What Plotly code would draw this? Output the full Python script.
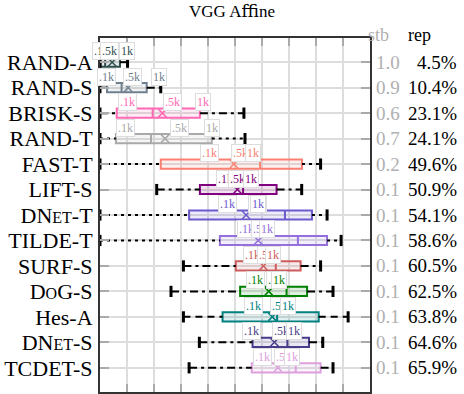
import plotly.graph_objects as go

# ---------------- data ----------------
methods = ["RAND-A", "RAND-S", "BRISK-S", "RAND-T", "FAST-T", "LIFT-S", "DNet-T",
           "TILDE-T", "SURF-S", "DoG-S", "Hes-A", "DNet-S", "TCDET-S"]
tick_text = ["RAND-A", "RAND-S", "BRISK-S", "RAND-T", "FAST-T", "LIFT-S",
             "DN<span style='font-size:16px'>ET</span>-T", "TILDE-T", "SURF-S",
             "D<span style='font-size:16px'>O</span>G-S", "Hes-A",
             "DN<span style='font-size:16px'>ET</span>-S", "TCDET-S"]
whisk_lo = [0, 0, 0, 0, 0, 21.0, 0, 0, 30.9, 26.3, 30.9, 36.8, 33.0]
q1 = [0.2, 2.6, 6.2, 5.9, 22.5, 37.0, 33.0, 44.4, 50.3, 51.9, 45.4, 56.5, 56.2]
median = [1.9, 8.0, 19.5, 18.9, 59.3, 53.0, 68.5, 73.3, 65.1, 69.1, 65.6, 69.4, 72.5]
q3 = [7.4, 17.3, 37.0, 41.4, 74.8, 65.4, 78.5, 84.1, 74.3, 76.7, 81.0, 77.4, 81.7]
whisk_hi = [10.2, 22.5, 53.3, 53.7, 81.7, 74.7, 84.1, 89.3, 81.7, 86.3, 91.9, 82.5, 86.3]
rep = [4.5, 10.4, 23.1, 24.1, 49.6, 50.9, 54.1, 58.6, 60.5, 62.5, 63.8, 64.6, 65.9]
stb = [1.0, 0.9, 0.6, 0.7, 0.2, 0.1, 0.1, 0.1, 0.1, 0.1, 0.1, 0.1, 0.1]
rep_100 = [0.4, 2.5, 10.0, 9.3, 40.7, 46.3, 47.2, 54.4, 56.3, 57.6, 57.0, 56.0, 60.2]
rep_500 = [3.7, 12.2, 26.7, 29.3, 51.9, 51.1, 58.3, 59.6, 61.5, 65.0, 66.3, 67.4, 67.8]
rep_1000 = [9.9, 21.9, 38.1, 41.5, 56.7, 55.9, 58.5, 61.7, 63.9, 66.2, 69.8, 71.8, 71.1]
label_names = [".1k", ".5k", "1k"]
colors = ["#2F4F4F", "#708090", "#FF69B4", "#A9A9A9", "#FA8072", "#800080", "#6A5ACD",
          "#9370DB", "#CD5C5C", "#008000", "#008080", "#483D8B", "#DDA0DD"]

FONT = "Liberation Serif, DejaVu Serif, serif"
DOT = "3px,4px"
DASHDOT = "8px,4px,3px,4px"
DASH = "7px,5px"


def whisker_dash(name):
    if name.endswith("-T"):
        return DOT
    if name.endswith("-S"):
        return DASHDOT
    return DASH


def tint(hex_color, a):
    h = hex_color.lstrip("#")
    r, g, b = int(h[0:2], 16), int(h[2:4], 16), int(h[4:6], 16)
    return f"rgba({r},{g},{b},{a})"


fig = go.Figure()
n = len(methods)
for i in range(n):
    c = colors[i]
    fig.add_trace(go.Scatter(
        x=[whisk_lo[i], q1[i], None, q3[i], whisk_hi[i]], y=[i, i, None, i, i],
        mode="lines", line=dict(color="black", width=2, dash=whisker_dash(methods[i])),
        hoverinfo="skip", showlegend=False))
    fig.add_trace(go.Scatter(
        x=[whisk_lo[i], whisk_hi[i]], y=[i, i], mode="markers",
        marker=dict(symbol="line-ns", size=8, color="black", line=dict(color="black", width=3)),
        cliponaxis=False, hoverinfo="skip", showlegend=False))
    fig.add_trace(go.Box(
        y=[i], q1=[q1[i]], median=[median[i]], q3=[q3[i]],
        lowerfence=[q1[i]], upperfence=[q3[i]], orientation="h", width=0.36,
        line=dict(color=c, width=2), fillcolor=tint(c, 0.12), whiskerwidth=0,
        boxpoints=False, showlegend=False, name=methods[i]))
    fig.add_trace(go.Scatter(
        x=[rep[i]], y=[i], mode="markers",
        marker=dict(symbol="x-thin-open", size=8, color=c, line=dict(color=c, width=1.5)),
        hoverinfo="skip", showlegend=False))
    for lab, arr in zip(label_names, [rep_100, rep_500, rep_1000]):
        fig.add_annotation(x=arr[i], y=i, yshift=11, text=lab, showarrow=False,
                           font=dict(family=FONT, size=12, color=c),
                           bgcolor="white", bordercolor="#dddddd", borderwidth=1, borderpad=1)
    fig.add_annotation(x=(402 - 100) / 270, xref="paper", y=i, yref="y", xanchor="right",
                       text=f"{stb[i]:.1f}", showarrow=False,
                       font=dict(family=FONT, size=19, color="#b0b0b0"))
    fig.add_annotation(x=(459 - 100) / 270, xref="paper", y=i, yref="y", xanchor="right",
                       text=f"{rep[i]}%", showarrow=False,
                       font=dict(family=FONT, size=19, color="black"))

fig.add_annotation(x=(391 - 100) / 270, xref="paper", y=1.008, yref="paper",
                   text="stb", showarrow=False, yanchor="middle",
                   font=dict(family=FONT, size=18, color="#b0b0b0"))
fig.add_annotation(x=(433 - 100) / 270, xref="paper", y=1.008, yref="paper",
                   text="rep", showarrow=False, yanchor="middle",
                   font=dict(family=FONT, size=18, color="black"))

fig.update_layout(
    width=464, height=394,
    margin=dict(l=100, r=94, t=38, b=2),
    plot_bgcolor="white", paper_bgcolor="white",
    boxmode="overlay",
    title=dict(text="VGG A\ufb03ne", x=0.5, xref="container", y=1 - 11 / 394,
               yanchor="middle", font=dict(family=FONT, size=17, color="black")),
    font=dict(family=FONT, color="black"),
    showlegend=False,
)
fig.update_xaxes(range=[0, 100], dtick=10, showticklabels=False, showgrid=True,
                 gridcolor="#dddddd", gridwidth=1.5, zeroline=False,
                 showline=True, linecolor="#333333", linewidth=2, mirror="ticks",
                 ticks="inside", ticklen=8, tickcolor="#aaaaaa", tickwidth=1.5)
fig.update_yaxes(range=[12.95, -0.95], tickvals=list(range(n)), ticktext=tick_text,
                 showgrid=True, gridcolor="#dddddd", gridwidth=1.5, zeroline=False,
                 showline=True, linecolor="#333333", linewidth=2, mirror="ticks",
                 ticks="inside", ticklen=9, tickcolor="#aaaaaa", tickwidth=1.5,
                 tickfont=dict(family=FONT, size=22, color="black"), ticklabelstandoff=1)

fig.write_html("out.html", config={"displayModeBar": False},
               post_script="document.body.style.margin='0';")
